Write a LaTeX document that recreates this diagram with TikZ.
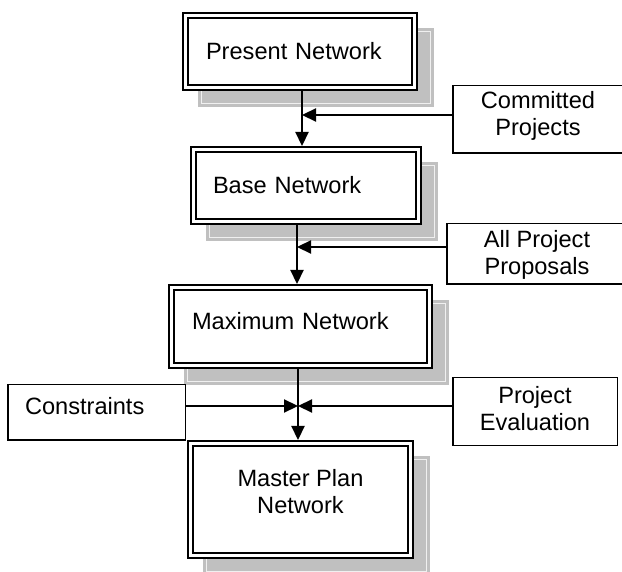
\documentclass[tikz,border=0pt]{standalone}
\usepackage{fontspec}
\setmainfont{Liberation Sans}
\usetikzlibrary{arrows.meta,backgrounds}
\definecolor{shgray}{HTML}{C0C0C0}
\begin{document}
\begin{tikzpicture}[x=1pt,y=-1pt,
  font=\fontsize{23.6}{27}\selectfont,
  mainbox/.style={rectangle, draw=black, fill=white, double=white, double distance=2.5pt,
    line width=2.2pt, inner sep=0pt, outer sep=3.45pt},
  sidebox/.style={rectangle, draw=black, fill=white, line width=1.5pt, inner sep=0pt,
    outer sep=0.75pt, align=center},
  conn/.style={line width=2.2pt, -{Triangle[length=14pt,width=13pt]}},
  shadowfill/.style={fill=shgray},
  shadowline/.style={draw=gray!12, line width=0.8pt},
]
\useasboundingbox (0,0) rectangle (622,572);

% main boxes
\node[mainbox, minimum width=229.1pt, minimum height=72.1pt, text width=188pt, align=left]
  (present) at (300,51.5) {Present Network};
\node[mainbox, minimum width=225.1pt, minimum height=72.1pt, text width=186pt, align=left]
  (base) at (306,185.5) {Base Network};
\node[mainbox, minimum width=258.1pt, minimum height=78.1pt, text width=217pt, align=left,
  text height=17pt, text depth=10pt]
  (maxnet) at (300.5,326.5) {Maximum Network};
\node[mainbox, minimum width=220.1pt, minimum height=112.1pt, align=center,
  text height=45pt, text depth=18pt]
  (master) at (300.5,499.5) {Master Plan\\Network};

% side boxes
\node[sidebox, minimum width=170.5pt, minimum height=67.5pt, text height=45pt, text depth=12pt]
  (committed) at (538,119.5) {Committed\\Projects};
\node[sidebox, minimum width=180.5pt, minimum height=60.5pt, text height=48pt, text depth=6pt]
  (proposals) at (537,254) {All Project\\Proposals};
\node[sidebox, minimum width=164.5pt, minimum height=67.5pt, text height=45pt, text depth=6pt]
  (evaluation) at (535,411.5) {Project\\Evaluation};
\node[sidebox, minimum width=177.5pt, minimum height=55.5pt, text width=143pt, align=left,
  text height=17pt, text depth=12pt]
  (constraints) at (96.5,412.5) {Constraints};

% shadows
\begin{scope}[on background layer]
  \foreach \n in {present,base,maxnet,master} {
    \path[shadowfill] ([shift={(16,16)}]\n.north west) rectangle ([shift={(16,16)}]\n.south east);
    \path[shadowline] ([shift={(19.5,19.5)}]\n.north west) rectangle ([shift={(12.5,12.5)}]\n.south east);
  }
\end{scope}

% junctions
\coordinate (j1) at (302,115);
\coordinate (j2) at (297,247);
\coordinate (j3) at (298,406);

% connectors
\draw[conn] (j1 |- present.south) -- (j1 |- base.north);
\draw[conn] (committed.west |- j1) -- (j1);
\draw[conn] (j2 |- base.south) -- (j2 |- maxnet.north);
\draw[conn] (proposals.west |- j2) -- (j2);
\draw[conn] (j3 |- maxnet.south) -- (j3 |- master.north);
\draw[conn] (constraints.east |- j3) -- (j3);
\draw[conn] (evaluation.west |- j3) -- (j3);
\end{tikzpicture}
\end{document}
